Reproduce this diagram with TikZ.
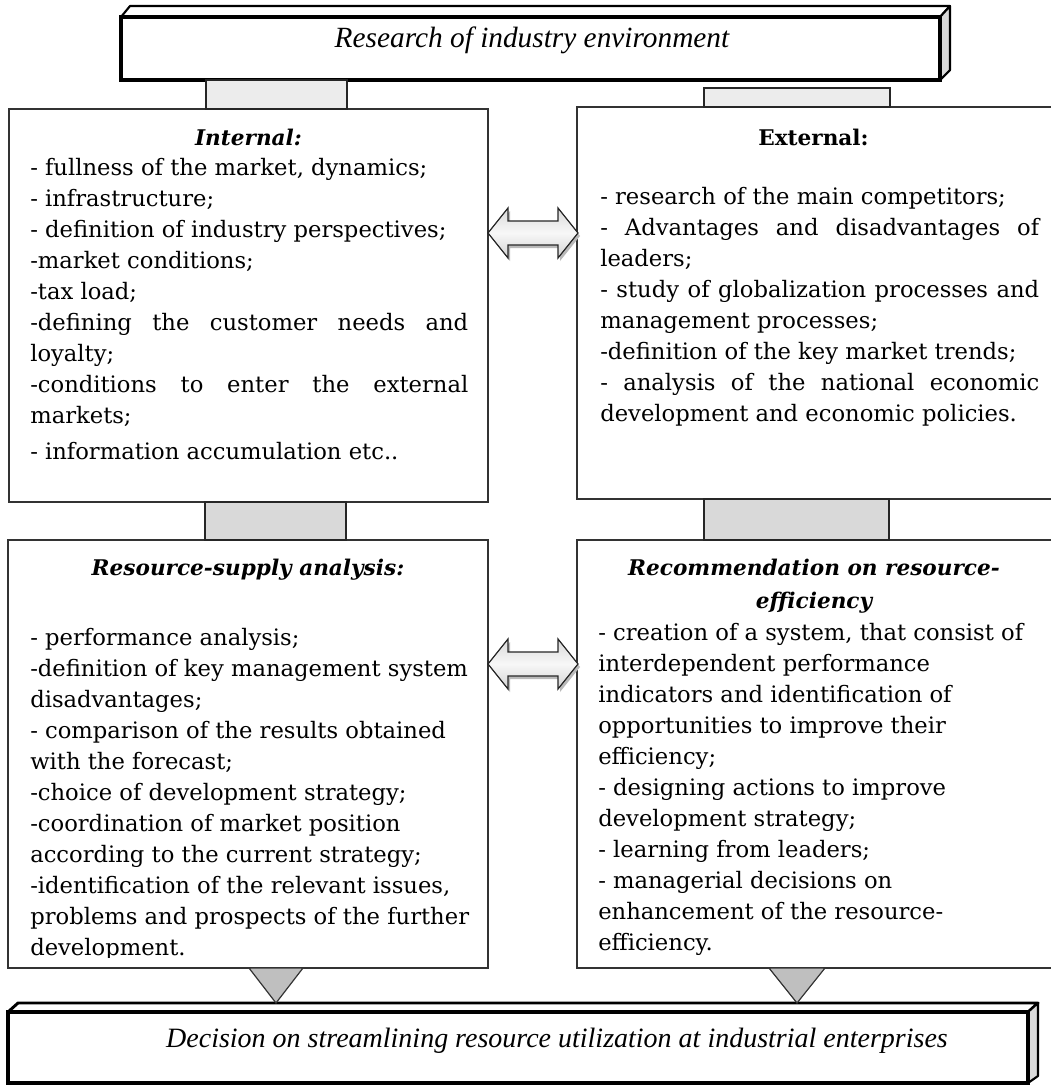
\documentclass[tikz,border=0pt]{standalone}
\usepackage{fontspec}
\setmainfont{DejaVu Serif}
\newfontfamily\bannerfont{Liberation Serif}
\usetikzlibrary{calc}
\newdimen\pxu \pxu=0.75pt
\tikzset{
  panel/.style={draw=black!80, line width=1.1pt, fill=white, rectangle, inner sep=0pt, outer sep=0pt},
  link/.style={draw=black!85, line width=1.4pt},
  linklight/.style={link, fill=gray!15},
  linkmid/.style={link, fill=gray!30},
  funnel/.style={draw=black!80, line width=0.9pt, fill=gray!50, line join=miter},
  front/.style={draw=black, line width=3pt, fill=white, rectangle, inner sep=0pt, outer sep=0pt},
  face/.style={draw=black, line width=1.6pt, fill=white, line join=round},
  sideface/.style={draw=black, line width=1.6pt, fill=gray!30, line join=round},
  body/.style={inner sep=0pt, anchor=base west, font=\fontsize{17}{23.25}\selectfont},
  head/.style={inner sep=0pt, anchor=base, font=\fontsize{16.2}{24.75}\selectfont\bfseries\itshape},
  headup/.style={inner sep=0pt, anchor=base, font=\fontsize{16.2}{24.75}\selectfont\bfseries},
  bannertext/.style={inner sep=0pt, font=\bannerfont\itshape\fontsize{21}{25}\selectfont},
  twoway/.style={draw=black!85, line width=0.9pt, top color=gray!30, bottom color=gray!35, middle color=gray!6},
  twowayshadow/.style={fill=gray!55, draw=none},
}
\begin{document}
\begin{tikzpicture}[x=0.75pt,y=-0.75pt]
\useasboundingbox (0,0) rectangle (1050,1085);
\fill[white] (0,0) rectangle (1050,1085);

% top banner (3D bar)
\draw[face] (121,17) -- (130,6) -- (950,6) -- (940,17) -- cycle;
\draw[sideface] (940,17) -- (950,6) -- (950,70) -- (940,80) -- cycle;
\node[front, anchor=north west, minimum width=819\pxu, minimum height=63\pxu] (top) at (121,17) {};
\node[bannertext, font=\bannerfont\itshape\fontsize{22}{26}\selectfont] (toptext) at (532,40) {Research of industry environment};

% the four panels
\node[panel, anchor=north west, minimum width=479\pxu, minimum height=393\pxu] (int) at (9,109) {};
\node[panel, anchor=north west, minimum width=480\pxu, minimum height=392\pxu] (ext) at (577,107) {};
\node[panel, anchor=north west, minimum width=480\pxu, minimum height=428\pxu] (res) at (8,540) {};
\node[panel, anchor=north west, minimum width=480\pxu, minimum height=428\pxu] (rec) at (577,540) {};

% bottom banner (3D bar)
\draw[face, line width=2.2pt] (8,1012) -- (18,1003) -- (1038,1003) -- (1028,1012) -- cycle;
\draw[sideface] (1028,1012) -- (1038,1003) -- (1038,1076) -- (1028,1083) -- cycle;
\node[front, anchor=north west, minimum width=1020\pxu, minimum height=71\pxu] (bot) at (8,1012) {};
\node[bannertext] (bottext) at (557,1041) {Decision on streamlining resource utilization at industrial enterprises};

% vertical links between banner and panels
\draw[linklight] ($(top.south west)+(85,0)$) rectangle ($(int.north west)+(338,0)$);
\draw[linklight] ($(top.south west)+(583,8)$) rectangle ($(ext.north west)+(313,0)$);
\draw[linkmid] ($(int.south west)+(196,0)$) rectangle ($(res.north west)+(338,0)$);
\draw[linkmid] ($(ext.south west)+(127,0)$) rectangle ($(rec.north west)+(312,0)$);

% funnels into the decision bar
\draw[funnel] ($(res.south west)+(241,0)$) -- ($(res.south west)+(295,0)$) -- ($(bot.north west)+(268,-9)$) -- cycle;
\draw[funnel] ($(rec.south west)+(192,0)$) -- ($(rec.south west)+(248,0)$) -- ($(bot.north west)+(789,-9)$) -- cycle;

% two-way arrows between the panels
\coordinate (a1) at ($(int.north east)+(0,124)$);
\coordinate (a2) at ($(res.north east)+(0,124)$);
\foreach \c in {a1,a2}{
  \path[twowayshadow] ($(\c)+(2,3)$) -- ++(20,-25) -- ++(0,13) -- ++(50,0) -- ++(0,-13) -- ++(20,25)
     -- ++(-20,25) -- ++(0,-13) -- ++(-50,0) -- ++(0,13) -- cycle;
  \path[twoway] (\c) -- ++(20,-25) -- ++(0,13) -- ++(50,0) -- ++(0,-13) -- ++(20,25)
     -- ++(-20,25) -- ++(0,-13) -- ++(-50,0) -- ++(0,13) -- cycle;
}

% panel texts
\node[head] (inthead) at (248.5,145) {Internal:};
\node[body] (inttxt) at (30,175) {\parbox[t]{438\pxu}{%
- fullness of the market, dynamics;\\
- infrastructure;\\
- definition of industry perspectives;\\
-market conditions;\\
-tax load;\\
-defining the customer needs and\linebreak loyalty;\\
-conditions to enter the external\linebreak markets;\\[3.75pt]
- information accumulation etc..}};

\node[headup] (exthead) at (813.5,145) {External:};
\node[body] (exttxt) at (600,204) {\parbox[t]{439\pxu}{%
- research of the main competitors;\\
- Advantages and disadvantages of\linebreak leaders;\\
- study of globalization processes and\linebreak management processes;\\
-definition of the key market trends;\\
- analysis of the national economic\linebreak development and economic policies.}};

\node[head] (reshead) at (248,575) {Resource-supply analysis:};
\begin{scope}
\clip ($(res.north west)+(2,2)$) rectangle ($(res.south east)+(-2,-11)$);
\node[body] (restxt) at (30,645) {\parbox[t]{455\pxu}{\raggedright
- performance analysis;\\
-definition of key management system\\
disadvantages;\\
- comparison of the results obtained\\
with the forecast;\\
-choice of development strategy;\\
-coordination of market position\\
according to the current strategy;\\
-identification of the relevant issues,\\
problems and prospects of the further\\
development.}};
\end{scope}

\node[head] (rechead) at (814,575) {\parbox[t]{450\pxu}{\centering Recommendation on resource-\\efficiency}};
\node[body] (rectxt) at (598,640) {\parbox[t]{450\pxu}{\raggedright
- creation of a system, that consist of\\
interdependent performance\\
indicators and identification of\\
opportunities to improve their\\
efficiency;\\
- designing actions to improve\\
development strategy;\\
- learning from leaders;\\
- managerial decisions on\\
enhancement of the resource-\\
efficiency.}};
\end{tikzpicture}
\end{document}
